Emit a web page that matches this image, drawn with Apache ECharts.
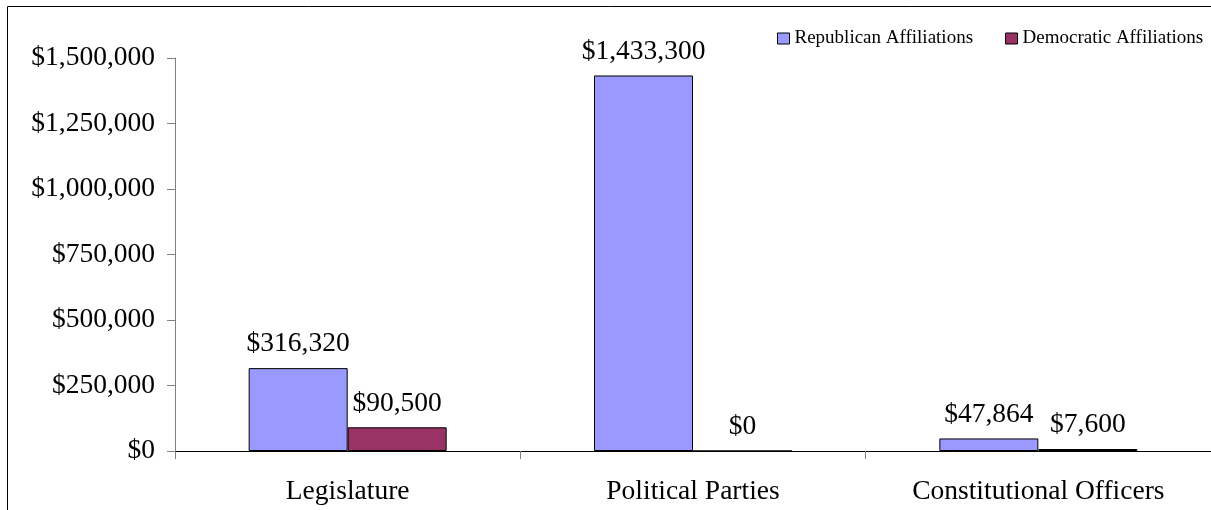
<!DOCTYPE html>
<html>
<head>
<meta charset="utf-8">
<script src="https://cdn.jsdelivr.net/npm/echarts@6/dist/echarts.min.js"></script>
<style>
html,body{margin:0;padding:0;background:#fff;}
#chart{width:1211px;height:510px;}
</style>
</head>
<body>
<div id="chart"></div>
<script>
const categories = ['Legislature', 'Political Parties', 'Constitutional Officers'];
const seriesNames = ['Republican Affiliations', 'Democratic Affiliations'];
const republican = [316320, 1433300, 47864];
const democratic = [90500, 0, 7600];
const yTicks = [0, 250000, 500000, 750000, 1000000, 1250000, 1500000];

const FONT = '"Liberation Serif", "Times New Roman", serif';
const BIG = 27.5;
const fmt = v => '$' + Math.round(v).toLocaleString('en-US');

const chart = echarts.init(document.getElementById('chart'), null, {renderer: 'canvas'});

function barSeries(name, data, color) {
  return {
    name: name,
    type: 'bar',
    data: data,
    barWidth: 99,
    barGap: '0%',
    itemStyle: {color: color, borderColor: '#000', borderWidth: 1},
    label: {
      show: true,
      position: 'top',
      distance: 10,
      formatter: p => fmt(p.value),
      fontFamily: FONT,
      fontSize: BIG,
      color: '#000'
    },
    emphasis: {disabled: true},
    animation: false
  };
}

chart.setOption({
  animation: false,
  backgroundColor: '#fff',
  textStyle: {fontFamily: FONT},
  graphic: [{
    type: 'rect',
    shape: {x: 7.5, y: 6.5, width: 1400, height: 700},
    style: {fill: 'none', stroke: '#000', lineWidth: 1},
    silent: true,
    z: 100
  }],
  legend: {
    data: seriesNames,
    orient: 'horizontal',
    left: 772,
    top: 24,
    width: 600,
    itemWidth: 12,
    itemHeight: 11,
    itemGap: 32,
    icon: 'rect',
    textStyle: {fontFamily: FONT, fontSize: 19, color: '#000'},
    itemStyle: {borderColor: '#000', borderWidth: 1}
  },
  grid: {left: 175, top: 58, width: 1039.5, bottom: 59, containLabel: false},
  xAxis: {
    type: 'category',
    data: categories,
    axisLine: {lineStyle: {color: '#000', width: 1}},
    axisTick: {show: true, length: 8, lineStyle: {color: '#808080'}},
    axisLabel: {fontFamily: FONT, fontSize: BIG, color: '#000', margin: 27, interval: 0}
  },
  yAxis: {
    type: 'value',
    min: yTicks[0],
    max: yTicks[yTicks.length - 1],
    interval: yTicks[1] - yTicks[0],
    axisLine: {show: true, lineStyle: {color: '#808080', width: 1}},
    axisTick: {show: true, length: 8, lineStyle: {color: '#808080'}},
    splitLine: {show: false},
    axisLabel: {fontFamily: FONT, fontSize: BIG, color: '#000', margin: 20, formatter: v => fmt(v)}
  },
  series: [
    barSeries(seriesNames[0], republican, '#9999FF'),
    barSeries(seriesNames[1], democratic, '#993366')
  ]
});
</script>
</body>
</html>
